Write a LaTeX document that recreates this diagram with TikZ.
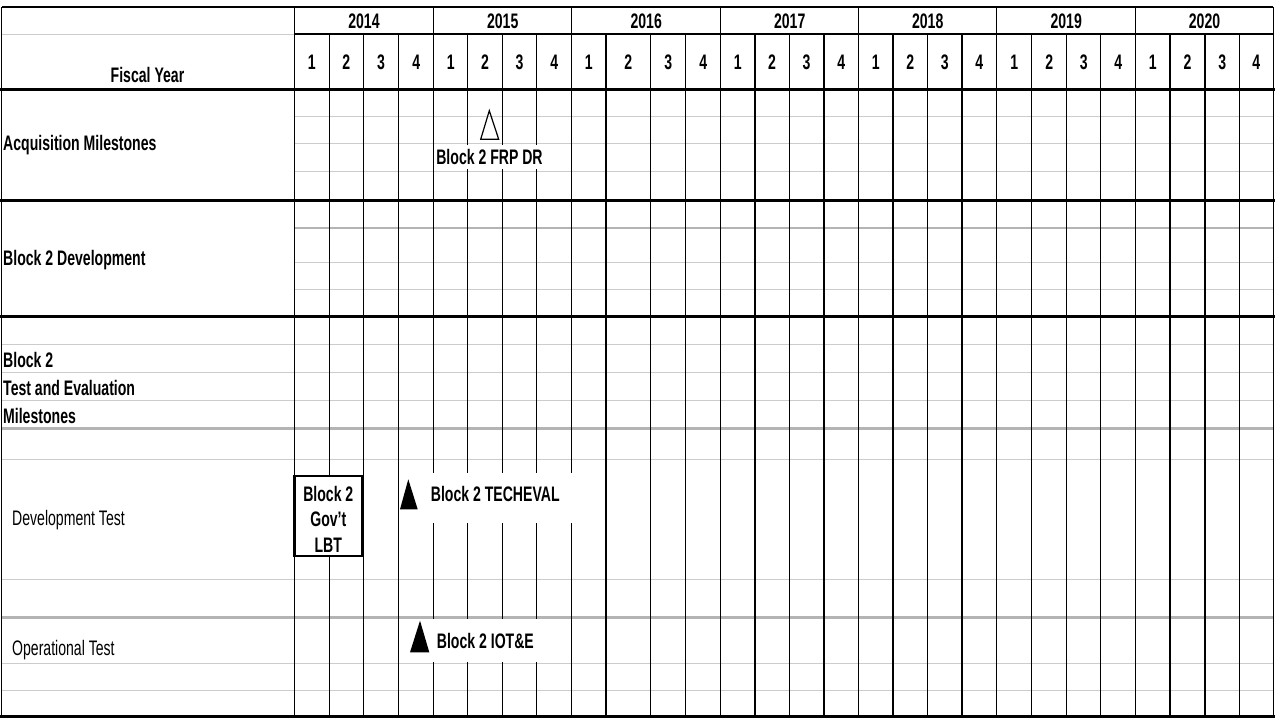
\documentclass[tikz,border=0pt]{standalone}
\usepackage{fontspec}
\setmainfont[FakeStretch=0.67]{Liberation Sans}
\definecolor{gridgrey}{RGB}{204,204,204}
\begin{document}
\begin{tikzpicture}[x=1pt, y=-1pt,
    txt/.style={font=\fontsize{21}{25.5}\selectfont, inner sep=0pt},
    hdr/.style={font=\fontsize{21}{25.5}\selectfont\bfseries, inner sep=0pt},
    rule/.style={line width=1.3pt},
    thickrule/.style={line width=3pt},
    greyrule/.style={gridgrey, line width=1pt},
    greythick/.style={gridgrey!88!black, line width=2.5pt}]
    \useasboundingbox (0,0) rectangle (1280,720);

    % Light grey row lines
    \foreach \y in {116.7,143.3,171,262,289}
        \draw[greyrule] (294.3,\y) -- (1273.3,\y);
    \draw[greythick, line width=2pt] (294.3,227.7) -- (1273.3,227.7);
    \foreach \y in {344.3,372.3,400.3,459.3,579.3,663,690.7}
        \draw[greyrule] (1.5,\y) -- (1273.3,\y);
    \foreach \y in {428.5,617.5}
        \draw[greythick] (1.5,\y) -- (1273.3,\y);
    \draw[greyrule] (1.5,34) -- (294.3,34);

    % Fiscal years, quarters and column lines
    \foreach \yr/\xa/\xb/\xc/\xd/\xe in {2014/294.3/329.3/363.3/398.7/433.7,
            2015/433.7/467.7/502.3/536.7/571.7, 2016/571.7/606/650.7/685.7/720.7,
            2017/720.7/755/789.3/824/858.7, 2018/858.7/893/927.5/962/996.7,
            2019/996.7/1031.7/1066.7/1100.7/1135.7, 2020/1135.7/1170/1205/1239.3/1273.3}{
        \node[hdr] (y\yr) at ({(\xa+\xe)/2},21.5) {\yr};
        \node[hdr] (q\yr-1) at ({(\xa+\xb)/2},62) {1};
        \node[hdr] (q\yr-2) at ({(\xb+\xc)/2},62) {2};
        \node[hdr] (q\yr-3) at ({(\xc+\xd)/2},62) {3};
        \node[hdr] (q\yr-4) at ({(\xd+\xe)/2},62) {4};
        \foreach \x in {\xb,\xc,\xd}
            \draw[rule] (\x,34) -- (\x,717);
        \draw[rule] (\xe,7) -- (\xe,717);
    }
    \draw[rule] (294.3,7) -- (294.3,717);
    \draw[rule] (294.3,34) -- (1273.3,34);

    % Frame and section rules
    \draw[rule] (1.5,7) -- (1273.3,7);
    \draw[rule] (1.5,7) -- (1.5,717);
    \foreach \y in {89,200,316.7,716.5}
        \draw[thickrule] (0,\y) -- (1274.5,\y);

    % Row labels
    \node[hdr] (fy) at (147.5,75) {Fiscal Year};
    \node[hdr, anchor=west] (acq) at (3,145) {Acquisition Milestones};
    \node[hdr, anchor=west] (dev) at (3,260) {Block 2 Development};
    \node[hdr, anchor=west, align=left, font=\fontsize{21}{28}\selectfont\bfseries] (te) at (3,387.5) {Block 2\\Test and Evaluation\\Milestones};
    \node[txt, anchor=west] (dt) at (12,520) {Development Test};
    \node[txt, anchor=west] (ot) at (12,650.5) {Operational Test};

    % Acquisition milestone
    \draw[line width=1.2pt] (489.3,110.7) -- (498.7,139.3) -- (480.7,139.3) -- cycle;
    \node[hdr, fill=white, inner xsep=1.5pt, minimum height=24pt] (frp) at (489.5,157) {Block 2 FRP DR};

    % Development test
    \node[draw, line width=2.5pt, fill=white, minimum width=68pt, minimum height=80pt] (lbtbox) at (328.3,515.9) {};
    \node[hdr, align=center] (lbt) at (328.3,519) {Block 2\\Gov't\\LBT};
    \fill[white] (400,472.7) rectangle (575,523.3);
    \fill (408.3,479.3) -- (417.7,509.3) -- (400,509.3) -- cycle;
    \node[hdr, anchor=west] (techeval) at (430.7,494.3) {Block 2 TECHEVAL};

    % Operational test
    \fill[white] (404,618.8) rectangle (565,661.8);
    \fill (420,620.7) -- (429.3,652.3) -- (410,652.3) -- cycle;
    \node[hdr, anchor=west] (iote) at (436.7,640.7) {Block 2 IOT\&E};
\end{tikzpicture}
\end{document}
